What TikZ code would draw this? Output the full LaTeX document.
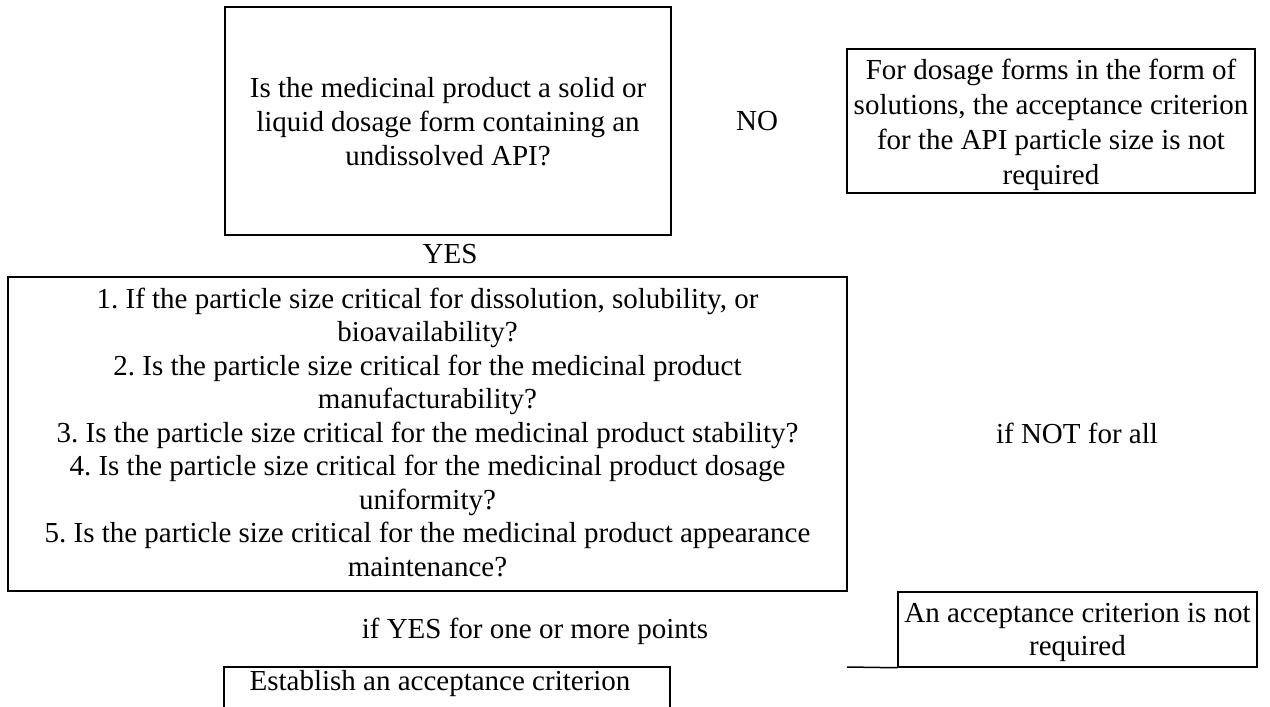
\documentclass[tikz,border=0pt]{standalone}
\usepackage{fontspec}
\setmainfont{Liberation Serif}
\frenchspacing
\begin{document}
\begin{tikzpicture}[x=1pt,y=-1pt,
  box/.style={draw, line width=1.5pt, inner sep=0pt},
  txt/.style={font=\fontsize{29pt}{33.5pt}\selectfont, align=center, inner sep=0pt, anchor=base}]
\useasboundingbox (0,0) rectangle (1270,707);
\clip (0,0) rectangle (1270,707);
\node[box, minimum width=446pt, minimum height=228pt] (b1) at (448,121) {};
\node[txt, font=\fontsize{29pt}{34pt}\selectfont] (t1) at (448,165.5) {Is the medicinal product a solid or\\liquid dosage form containing an\\undissolved API?};
\node[txt] (no) at (757,130) {NO};
\node[box, minimum width=408pt, minimum height=144pt] (b2) at (1051,121) {};
\node[txt, font=\fontsize{29pt}{35pt}\selectfont] (t2) at (1051,184.5) {For dosage forms in the form of\\solutions, the acceptance criterion\\for the API particle size is not\\required};
\node[txt] (yes) at (450,263) {YES};
\node[box, minimum width=839pt, minimum height=314pt] (b3) at (427.5,434) {};
\node[txt] (t3) at (427.5,576) {1. If the particle size critical for dissolution, solubility, or\\bioavailability?\\2. Is the particle size critical for the medicinal product\\manufacturability?\\3. Is the particle size critical for the medicinal product stability?\\4. Is the particle size critical for the medicinal product dosage\\uniformity?\\5. Is the particle size critical for the medicinal product appearance\\maintenance?};
\node[txt] (notall) at (1077,443) {if NOT for all};
\node[box, minimum width=359pt, minimum height=75pt] (b4) at (1077.5,629.5) {};
\node[txt] (t4) at (1077.5,655.5) {An acceptance criterion is not\\required};
\node[txt] (ifyes) at (535,638) {if YES for one or more points};
\node[box, minimum width=446pt, minimum height=60pt] (b5) at (447,697) {};
\node[txt] (t5) at (440,690) {Establish an acceptance criterion};
\coordinate (c1) at (847,667);
\draw[line width=1.5pt] (c1) -- (b4.south west);
\end{tikzpicture}
\end{document}
